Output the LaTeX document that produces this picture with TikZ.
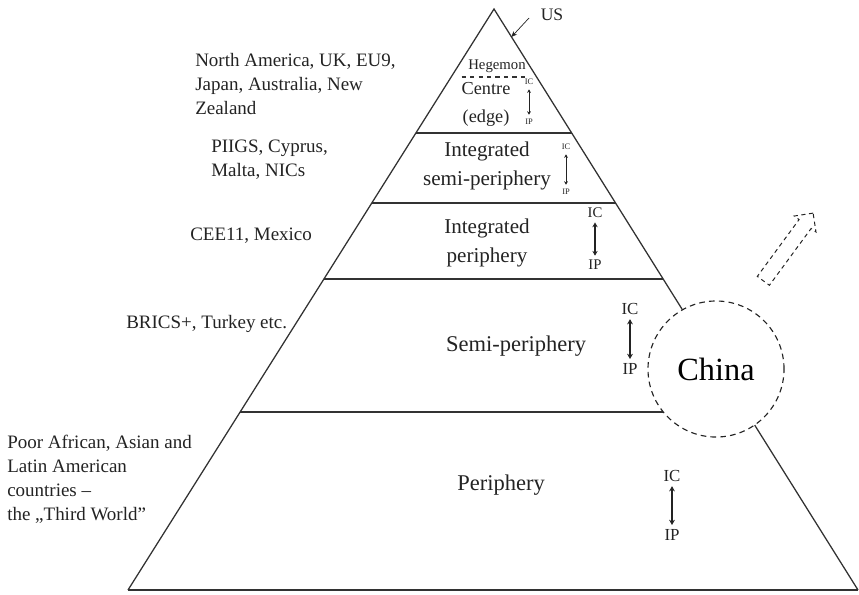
\documentclass[tikz,border=0pt]{standalone}
\usepackage{fontspec}
\setmainfont{Liberation Serif}
\usepackage{tikz}
\usetikzlibrary{shapes.arrows, arrows.meta, calc}
\definecolor{InkGray}{RGB}{35,35,35}
\definecolor{RuleGray}{RGB}{50,50,50}

\begin{document}
\begin{tikzpicture}[x=0.025cm, y=-0.025cm,
          edge/.style={line width=0.9pt, draw=RuleGray},
          layer/.style={line width=1.3pt, draw=RuleGray},
          lbl/.style={anchor=north west, align=left, inner sep=0pt, text=InkGray,
                      font=\fontsize{13.5}{17}\selectfont},
          tier/.style={align=center, inner sep=0pt, text=InkGray,
                       font=\fontsize{15}{20}\selectfont},
          icip/.style={inner sep=3pt, text=InkGray},
          dbl/.style={{Stealth[length=1pt 3, width=1pt 3.5]}-{Stealth[length=1pt 3, width=1pt 3.5]},
                      draw=InkGray}
        ]
        \useasboundingbox (0,0) rectangle (859,594);

        % Pyramid
        \coordinate (apex) at (494,9);
        \coordinate (bl) at (128,590);
        \coordinate (br) at (858,590);
        \draw[edge] (bl) -- (apex) -- (br);
        \draw[layer, line width=1.7pt] (bl) -- (br);
        \foreach \t in {0.2134, 0.3339, 0.4647, 0.6936} {
          \draw[layer] ($(apex)!\t!(bl)$) -- ($(apex)!\t!(br)$);
        }
        \draw[edge, dashed, shorten <=7.5pt, shorten >=7pt]
          ($(apex)!0.117!(bl)$) -- ($(apex)!0.117!(br)$);

        % Tiers
        \node[tier, font=\fontsize{10.5}{11}\selectfont] (hegemon) at (497,66) {Hegemon};
        \node[tier, font=\fontsize{13}{20}\selectfont] (centre) at (486,104) {Centre\\(edge)};
        \node[tier] (intsemi) at (487,166) {Integrated\\semi-periphery};
        \node[tier] (intper) at (487,243) {Integrated\\periphery};
        \node[tier, font=\fontsize{16}{20}\selectfont] (semiper) at (516,346) {Semi-periphery};
        \node[tier, font=\fontsize{16}{20}\selectfont] (per) at (501,485) {Periphery};

        \foreach \x/\yc/\yp/\fs/\lw [count=\i] in
          {529/82/122/6/0.5, 566/147/192/6/0.5, 595/213/265/10.5/0.8,
           630/309/369/12/0.9, 672/476/535/12/0.9} {
          \node[icip, font=\fontsize{\fs}{\fs}\selectfont] (ic\i) at (\x,\yc) {IC};
          \node[icip, font=\fontsize{\fs}{\fs}\selectfont] (ip\i) at (\x,\yp) {IP};
          \draw[dbl, line width=\lw pt] (ic\i) -- (ip\i);
        }

        % Country groups
        \node[lbl] (core) at (195,53)
              {North America, UK, EU9,\\Japan, Australia, New\\Zealand};
        \node[lbl] (semicore) at (211,140) {PIIGS, Cyprus,\\Malta, NICs};
        \node[lbl] (cee) at (190,228) {CEE11, Mexico};
        \node[lbl] (brics) at (126,315) {BRICS+, Turkey etc.};
        \node[lbl] (poor) at (7,435)
              {Poor African, Asian and\\Latin American\\countries –\\the „Third World”};

        % US at the top
        \node[inner sep=0pt, text=InkGray, font=\fontsize{12.5}{13}\selectfont] (us) at (552,15) {US};
        \coordinate (ustail) at (529,18);
        \coordinate (usedge) at ($(apex)!0.048!(br)$);
        \draw[-{Stealth[length=4pt, width=3.5pt]}, line width=0.5pt, draw=InkGray]
          (ustail) -- (usedge);

        % China
        \node[circle, draw=InkGray, fill=white, line width=0.8pt,
              dash pattern=on 4pt off 3pt, minimum size=3.4cm,
              text=black, font=\fontsize{23}{23}\selectfont] (china) at (716,369) {China};
        \node[single arrow, draw=InkGray, line width=0.7pt, dash pattern=on 3pt off 2.5pt,
              inner xsep=0pt, inner ysep=0.175cm, minimum width=0.65cm, minimum height=2.1cm,
              single arrow head extend=0.15cm, rotate=53.7] (rise) at (786,250) {};
      \end{tikzpicture}
\end{document}
